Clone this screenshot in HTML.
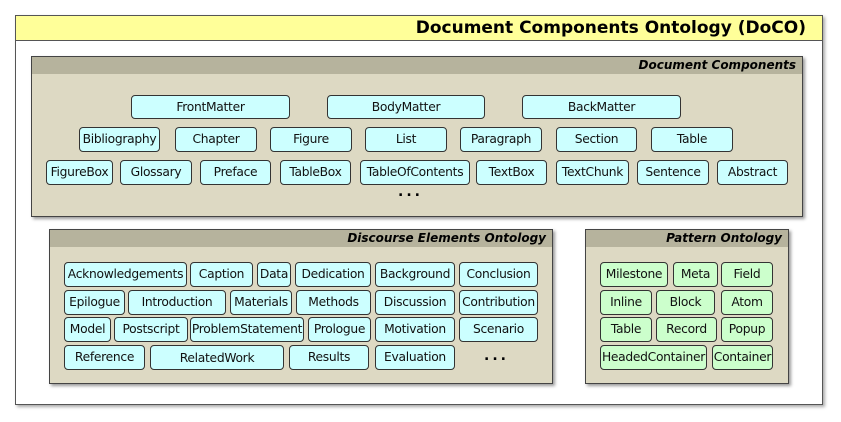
<!DOCTYPE html>
<html><head><meta charset="utf-8"><style>
body{margin:0;width:841px;height:422px;background:#fff;position:relative;overflow:hidden;font-family:"DejaVu Sans","Liberation Sans",sans-serif}
div{position:absolute;box-sizing:border-box}
.b{border:1px solid #333;border-radius:4px;background:#ccffff;font-size:12.3px;text-align:center;color:#111;white-space:nowrap;letter-spacing:-0.3px}
.g{background:#ccffcc}
.p{background:#ddd9c3;border:1px solid #444;box-shadow:2px 2px 3px #999}
.h{left:0;right:0;top:0;background:#b6b39d;font-weight:bold;font-style:italic;font-size:12px;text-align:right;padding-right:6px;line-height:17px}
.d{font-size:14px;font-weight:bold;letter-spacing:3px}
</style></head><body>
<div style="left:15px;top:15px;width:808px;height:390px;border:1px solid #555;box-shadow:2px 2px 3px #aaa"></div>
<div style="left:15px;top:15px;width:808px;height:26px;background:#ffff99;border:1px solid #555;font-weight:bold;font-size:17px;text-align:right;padding-right:16px;line-height:25px">Document Components Ontology (DoCO)</div>

<div class="p" style="left:31px;top:56px;width:772px;height:161px"><div class="h" style="height:17px">Document Components</div></div>
<div class="p" style="left:49px;top:229px;width:504px;height:155px"><div class="h" style="height:17px">Discourse Elements Ontology</div></div>
<div class="p" style="left:585px;top:229px;width:204px;height:155px"><div class="h" style="height:17px">Pattern Ontology</div></div>

<div class="b" style="left:131px;top:95px;width:159px;height:24px;line-height:22px">FrontMatter</div>
<div class="b" style="left:327px;top:95px;width:158px;height:24px;line-height:22px">BodyMatter</div>
<div class="b" style="left:522px;top:95px;width:159px;height:24px;line-height:22px">BackMatter</div>

<div class="b" style="left:79px;top:127px;width:81px;height:25px;line-height:23px">Bibliography</div>
<div class="b" style="left:175px;top:127px;width:82px;height:25px;line-height:23px">Chapter</div>
<div class="b" style="left:270px;top:127px;width:82px;height:25px;line-height:23px">Figure</div>
<div class="b" style="left:365px;top:127px;width:82px;height:25px;line-height:23px">List</div>
<div class="b" style="left:460px;top:127px;width:82px;height:25px;line-height:23px">Paragraph</div>
<div class="b" style="left:556px;top:127px;width:81px;height:25px;line-height:23px">Section</div>
<div class="b" style="left:651px;top:127px;width:82px;height:25px;line-height:23px">Table</div>

<div class="b" style="left:46px;top:160px;width:67px;height:25px;line-height:23px">FigureBox</div>
<div class="b" style="left:120px;top:160px;width:72px;height:25px;line-height:23px">Glossary</div>
<div class="b" style="left:200px;top:160px;width:71px;height:25px;line-height:23px">Preface</div>
<div class="b" style="left:280px;top:160px;width:71px;height:25px;line-height:23px">TableBox</div>
<div class="b" style="left:360px;top:160px;width:110px;height:25px;line-height:23px">TableOfContents</div>
<div class="b" style="left:476px;top:160px;width:71px;height:25px;line-height:23px">TextBox</div>
<div class="b" style="left:556px;top:160px;width:73px;height:25px;line-height:23px">TextChunk</div>
<div class="b" style="left:637px;top:160px;width:72px;height:25px;line-height:23px">Sentence</div>
<div class="b" style="left:717px;top:160px;width:71px;height:25px;line-height:23px">Abstract</div>
<div class="d" style="left:398px;top:184px;width:40px">...</div>

<div class="b" style="left:64px;top:262px;width:123px;height:25px;line-height:23px">Acknowledgements</div>
<div class="b" style="left:190px;top:262px;width:63px;height:25px;line-height:23px">Caption</div>
<div class="b" style="left:257px;top:262px;width:34px;height:25px;line-height:23px">Data</div>
<div class="b" style="left:295px;top:262px;width:76px;height:25px;line-height:23px">Dedication</div>
<div class="b" style="left:375px;top:262px;width:80px;height:25px;line-height:23px">Background</div>
<div class="b" style="left:459px;top:262px;width:79px;height:25px;line-height:23px">Conclusion</div>

<div class="b" style="left:64px;top:290px;width:61px;height:25px;line-height:23px">Epilogue</div>
<div class="b" style="left:128px;top:290px;width:98px;height:25px;line-height:23px">Introduction</div>
<div class="b" style="left:230px;top:290px;width:62px;height:25px;line-height:23px">Materials</div>
<div class="b" style="left:296px;top:290px;width:75px;height:25px;line-height:23px">Methods</div>
<div class="b" style="left:375px;top:290px;width:80px;height:25px;line-height:23px">Discussion</div>
<div class="b" style="left:459px;top:290px;width:79px;height:25px;line-height:23px">Contribution</div>

<div class="b" style="left:64px;top:317px;width:47px;height:25px;line-height:23px">Model</div>
<div class="b" style="left:114px;top:317px;width:74px;height:25px;line-height:23px">Postscript</div>
<div class="b" style="left:190px;top:317px;width:114px;height:25px;line-height:23px">ProblemStatement</div>
<div class="b" style="left:308px;top:317px;width:63px;height:25px;line-height:23px">Prologue</div>
<div class="b" style="left:375px;top:317px;width:80px;height:25px;line-height:23px">Motivation</div>
<div class="b" style="left:459px;top:317px;width:79px;height:25px;line-height:23px">Scenario</div>

<div class="b" style="left:64px;top:345px;width:81px;height:25px;line-height:23px">Reference</div>
<div class="b" style="left:150px;top:345px;width:134px;height:25px;line-height:25px">RelatedWork</div>
<div class="b" style="left:289px;top:345px;width:80px;height:25px;line-height:23px">Results</div>
<div class="b" style="left:375px;top:345px;width:80px;height:25px;line-height:23px">Evaluation</div>
<div class="d" style="left:484px;top:348px;width:40px">...</div>

<div class="b g" style="left:600px;top:262px;width:68px;height:25px;line-height:23px">Milestone</div>
<div class="b g" style="left:673px;top:262px;width:45px;height:25px;line-height:23px">Meta</div>
<div class="b g" style="left:721px;top:262px;width:52px;height:25px;line-height:23px">Field</div>
<div class="b g" style="left:600px;top:290px;width:52px;height:25px;line-height:23px">Inline</div>
<div class="b g" style="left:656px;top:290px;width:59px;height:25px;line-height:23px">Block</div>
<div class="b g" style="left:721px;top:290px;width:52px;height:25px;line-height:23px">Atom</div>
<div class="b g" style="left:600px;top:317px;width:52px;height:25px;line-height:23px">Table</div>
<div class="b g" style="left:656px;top:317px;width:61px;height:25px;line-height:23px">Record</div>
<div class="b g" style="left:721px;top:317px;width:52px;height:25px;line-height:23px">Popup</div>
<div class="b g" style="left:600px;top:345px;width:107px;height:25px;line-height:23px">HeadedContainer</div>
<div class="b g" style="left:712px;top:345px;width:61px;height:25px;line-height:23px">Container</div>
</body></html>
